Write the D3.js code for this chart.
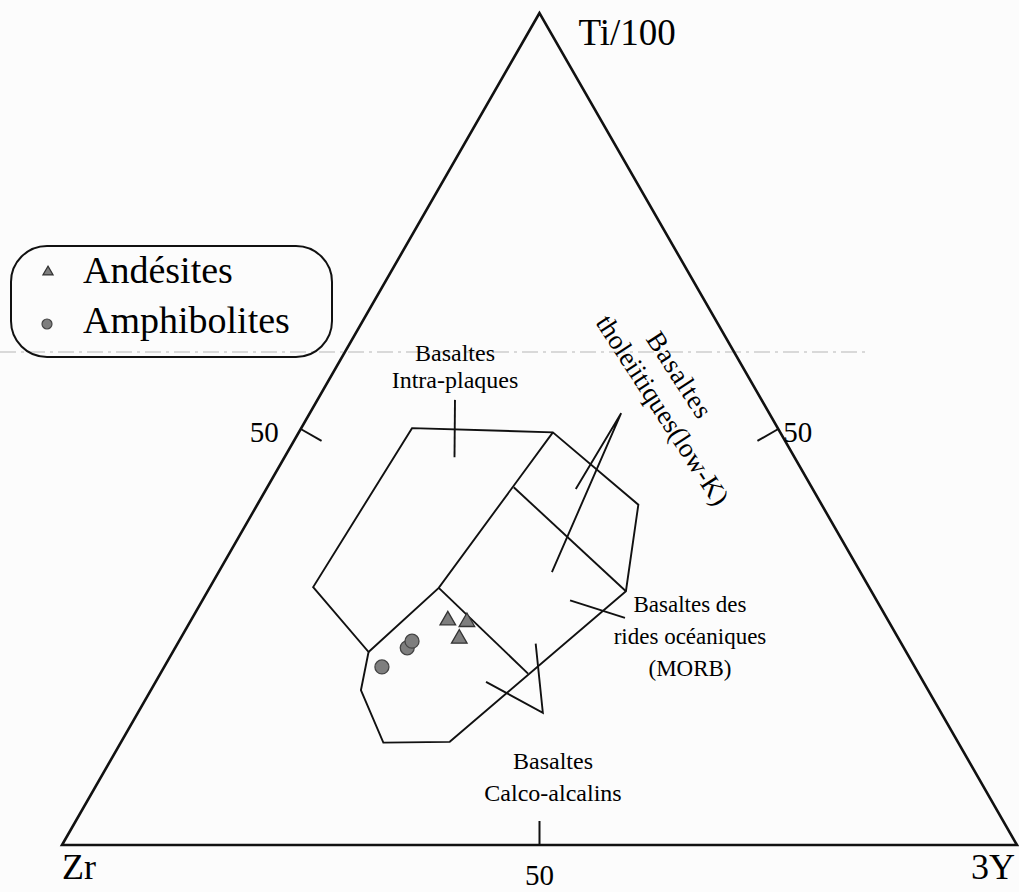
<!DOCTYPE html>
<html>
<head>
<meta charset="utf-8">
<script src="https://cdn.jsdelivr.net/npm/d3@7"></script>
<style>
  body { margin: 0; background: #fcfcfc; }
  svg { display: block; font-family: "Liberation Serif", "Times New Roman", serif; }
</style>
</head>
<body>
<svg id="chart" width="1019" height="892"></svg>
<script>
// All ternary values are [Ti/100, Zr, 3Y] in percent

const apexLabels = ["Ti/100", "Zr", "3Y"];
const tickValues = [50];

// samples
const andesites = [[27.0, 46.1, 26.9], [26.8, 44.2, 29.0], [24.8, 46.1, 29.2]];
const amphibolites = [[21.4, 55.8, 22.8], [23.7, 52.1, 24.3], [24.5, 51.1, 24.4]];

// outer limit of the discrimination fields
const fieldOutline = [
  [50.1, 38.3, 11.6], [49.6, 23.8, 26.6], [40.9, 19.3, 39.9], [30.5, 25.7, 43.8],
  [12.4, 53.2, 34.4], [12.3, 60.3, 27.5], [18.6, 59.4, 22.0], [23.2, 56.3, 20.5],
  [31.0, 58.2, 10.8]
];

// boundaries inside the outline
const fieldDividers = [
  [[49.6, 23.8, 26.6], [30.9, 45.1, 24.0], [23.2, 56.3, 20.5]],
  [[43.0, 31.2, 25.8], [30.5, 25.7, 43.8]],
  [[30.9, 45.1, 24.0], [20.6, 40.9, 38.5]]
];

// leader lines from the labels to the fields
const leaderLines = [
  [[53.5, 32.1, 14.4], [46.6, 35.6, 17.8]],
  [[42.8, 24.8, 32.4], [51.9, 15.4, 32.6], [32.8, 32.3, 34.9]],
  [[29.4, 32.1, 38.5], [27.3, 27.4, 45.3]],
  [[24.2, 38.3, 37.5], [15.9, 41.7, 42.4], [19.6, 45.8, 34.6]]
];

const fieldNames = [
  ["Basaltes", "Intra-plaques"],
  ["Basaltes", "tholeiitiques(low-K)"],
  ["Basaltes des", "rides océaniques", "(MORB)"],
  ["Basaltes", "Calco-alcalins"]
];

const legendNames = ["Andésites", "Amphibolites"];

const svg = d3.select("#chart");

// x depends on 3Y plus half of Ti, y only on Ti
const xScale = d3.scaleLinear().domain([0, 100]).range([62, 1017]);
const yScale = d3.scaleLinear().domain([0, 100]).range([845, 13]);
const px = (d) => [xScale(d[2] + d[0] / 2), yScale(d[0])];

const line = d3.line().x((d) => px(d)[0]).y((d) => px(d)[1]);

// faint fold line from the scanned page
svg.append("line")
  .attr("x1", 0).attr("x2", 870).attr("y1", 352).attr("y2", 352)
  .attr("stroke", "#cdcdcd").attr("stroke-width", 1.5)
  .attr("stroke-dasharray", "16 5 3 5");

// triangle frame
const corners = [[100, 0, 0], [0, 100, 0], [0, 0, 100]];
svg.append("path")
  .attr("d", line(corners) + "Z")
  .attr("fill", "none").attr("stroke", "#111").attr("stroke-width", 2.6)
  .attr("stroke-linejoin", "miter");

// 50 ticks on each side, pointing inward
const tickLen = 24;
tickValues.forEach((v) => {
  const sides = [
    { p: [v, 100 - v, 0], n: [0.867, 0.498] },   // left side
    { p: [v, 0, 100 - v], n: [-0.867, 0.498] },  // right side
    { p: [0, v, 100 - v], n: [0, -1] }           // bottom
  ];
  sides.forEach((s) => {
    const [x, y] = px(s.p);
    svg.append("line")
      .attr("x1", x).attr("y1", y)
      .attr("x2", x + s.n[0] * tickLen).attr("y2", y + s.n[1] * tickLen)
      .attr("stroke", "#111").attr("stroke-width", 2);
  });
  const [lx, ly] = px(sides[0].p);
  svg.append("text").attr("x", lx - 22).attr("y", ly + 13)
    .attr("text-anchor", "end").attr("font-size", 29).text(v);
  const [rx, ry] = px(sides[1].p);
  svg.append("text").attr("x", rx + 5).attr("y", ry + 13)
    .attr("font-size", 29).text(v);
  const [bx, by] = px(sides[2].p);
  svg.append("text").attr("x", bx).attr("y", by + 40)
    .attr("text-anchor", "middle").attr("font-size", 29).text(v);
});

// apex labels
const [tx, ty] = px(corners[0]);
svg.append("text").attr("x", tx + 39).attr("y", ty + 32)
  .attr("font-size", 37).text(apexLabels[0]);
const [zx, zy] = px(corners[1]);
svg.append("text").attr("x", zx).attr("y", zy + 34)
  .attr("font-size", 36).text(apexLabels[1]);
const [yx, yy] = px(corners[2]);
svg.append("text").attr("x", yx - 2).attr("y", yy + 34)
  .attr("text-anchor", "end").attr("font-size", 36).text(apexLabels[2]);

// fields
svg.append("path")
  .attr("d", line(fieldOutline) + "Z")
  .attr("fill", "none").attr("stroke", "#111").attr("stroke-width", 1.9);

svg.selectAll(".divider")
  .data(fieldDividers)
  .join("path")
  .attr("class", "divider")
  .attr("d", line)
  .attr("fill", "none").attr("stroke", "#111").attr("stroke-width", 1.9);

svg.selectAll(".leader")
  .data(leaderLines)
  .join("path")
  .attr("class", "leader")
  .attr("d", line)
  .attr("fill", "none").attr("stroke", "#111").attr("stroke-width", 1.9);

// field labels
function label(lines, x, y, step, size) {
  const t = svg.append("text")
    .attr("text-anchor", "middle").attr("font-size", size)
    .attr("transform", `translate(${x},${y})`);
  lines.forEach((s, i) => {
    t.append("tspan").attr("x", 0).attr("y", i * step).text(s);
  });
}
label(fieldNames[0], 455, 361, 27, 24);
label(fieldNames[2], 690, 612, 32, 23);
label(fieldNames[3], 553, 769, 32, 24);

// rotated tholeiite label, each line set along the right side
svg.append("text").attr("font-size", 27).attr("text-anchor", "middle")
  .attr("letter-spacing", 1)
  .attr("transform", "translate(672,380) rotate(57)").text(fieldNames[1][0]);
svg.append("text").attr("font-size", 27).attr("text-anchor", "middle")
  .attr("transform", "translate(655,415) rotate(57)").text(fieldNames[1][1]);

// samples
const triangle = d3.symbol().type(d3.symbolTriangle);
svg.selectAll(".andesite")
  .data(andesites)
  .join("path")
  .attr("class", "andesite")
  .attr("d", triangle.size(105))
  .attr("transform", (d) => `translate(${px(d)[0]},${px(d)[1]})`)
  .attr("fill", "#7e7e7e").attr("stroke", "#333").attr("stroke-width", 1.3);

svg.selectAll(".amphibolite")
  .data(amphibolites)
  .join("circle")
  .attr("class", "amphibolite")
  .attr("cx", (d) => px(d)[0]).attr("cy", (d) => px(d)[1])
  .attr("r", 7)
  .attr("fill", "#7e7e7e").attr("stroke", "#444").attr("stroke-width", 1.3);

// legend
const legend = svg.append("g");
legend.append("rect")
  .attr("x", 11).attr("y", 246).attr("width", 321).attr("height", 111)
  .attr("rx", 36).attr("ry", 36)
  .attr("fill", "none").attr("stroke", "#111").attr("stroke-width", 2);
legend.append("path")
  .attr("d", d3.symbol().type(d3.symbolTriangle).size(45)())
  .attr("transform", "translate(48,272)")
  .attr("fill", "#7e7e7e").attr("stroke", "#333").attr("stroke-width", 1.2);
legend.append("circle")
  .attr("cx", 47).attr("cy", 324).attr("r", 5)
  .attr("fill", "#7e7e7e").attr("stroke", "#444").attr("stroke-width", 1.2);
legend.selectAll(".ltext")
  .data(legendNames)
  .join("text")
  .attr("class", "ltext")
  .attr("x", 83).attr("y", (d, i) => 283 + i * 50)
  .attr("font-size", 38)
  .text((d) => d);
</script>
</body>
</html>
